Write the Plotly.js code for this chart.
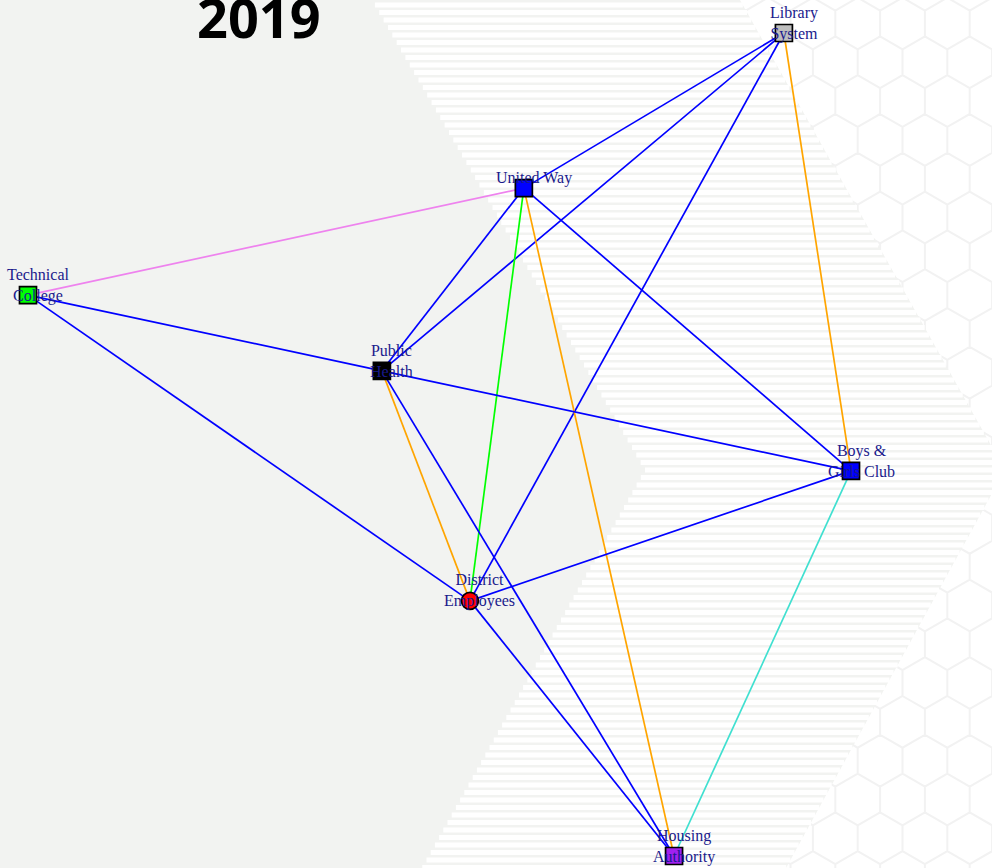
<!DOCTYPE html>
<html>
<head>
<meta charset="utf-8">
<script src="https://cdn.plot.ly/plotly-3.0.1.min.js"></script>
<style>html,body{margin:0;padding:0;background:#fff;}#chart{width:992px;height:868px;}</style>
</head>
<body>
<div id="chart"></div>
<script>
// ---- data ----
const chartTitle = '2019';
const nodeNames = ['Library<br>System', 'United Way', 'Technical<br>College', 'Public<br>Health', 'Boys &<br>Girls Club', 'District<br>Employees', 'Housing<br>Authority'];
const nodeX = [0.837, 0.205, -1.000, -0.140, 1.000, 0.074, 0.570];
const nodeY = [1.000, 0.623, 0.363, 0.179, -0.064, -0.380, -1.000];
const nodeColors = ['#BEBEBE', '#0000FF', '#00FF00', '#000000', '#0000FF', '#FF0000', '#A020F0'];
const nodeSymbols = ['square', 'square', 'square', 'square', 'square', 'circle', 'square'];
const edgeFrom = [0, 0, 0, 0, 1, 1, 1, 1, 1, 2, 3, 2, 3, 3, 5, 5, 4];
const edgeTo   = [1, 3, 5, 4, 2, 3, 5, 6, 4, 3, 4, 5, 5, 6, 4, 6, 6];
const edgeColors = ['#0000FF', '#0000FF', '#0000FF', '#FFA500', '#EE82EE', '#0000FF', '#00FF00', '#FFA500', '#0000FF', '#0000FF', '#0000FF', '#0000FF', '#FFA500', '#0000FF', '#0000FF', '#0000FF', '#40E0D0'];

// ---- page geometry (decorative background) ----
const W = 992, H = 868;
const px = x => (x / W).toFixed(5);
const py = y => (1 - y / H).toFixed(5);

function leftB(y) { return y <= 470 ? 372 + (645 - 372) * y / 470 : 645 - (645 - 422) * (y - 470) / 398; }
function rightB(y) { return y <= 470 ? 740 + (1005 - 740) * y / 470 : 1005 - (1005 - 786) * (y - 470) / 398; }

// hexagon pattern
const hw = 44.8, hs = hw / Math.sqrt(3), hrow = 1.5 * hs;
let hexPath = '';
for (let r = -1; r < 25; r++) {
  const cy = 23.5 + r * hrow;
  const off = (r % 2 !== 0) ? -hw / 2 : 0;
  for (let k = -8; k < 5; k++) {
    const cx = 902.5 + off + k * hw;
    const pts = [[cx, cy - hs], [cx + hw / 2, cy - hs / 2], [cx + hw / 2, cy + hs / 2], [cx, cy + hs], [cx - hw / 2, cy + hs / 2], [cx - hw / 2, cy - hs / 2]];
    hexPath += 'M' + pts.map(p => px(p[0]) + ',' + py(p[1])).join('L') + 'Z';
  }
}
// grey chevron
const greyPath = 'M' + [[0, 0], [740, 0], [1005, 470], [786, 868], [0, 868]].map(p => px(p[0]) + ',' + py(p[1])).join('L') + 'Z';
// white stripes in the band
let stripePath = '';
for (let y0 = -5; y0 < H + 8; y0 += 7.5) {
  const y1 = y0 + 5, ym = (y0 + y1) / 2;
  const xl = leftB(ym), xr = rightB(ym);
  stripePath += 'M' + px(xl) + ',' + py(y0) + 'L' + px(xr) + ',' + py(y0) + 'L' + px(xr) + ',' + py(y1) + 'L' + px(xl) + ',' + py(y1) + 'Z';
}

const shapes = [
  {type: 'path', xref: 'paper', yref: 'paper', path: hexPath, line: {color: '#f2f2f2', width: 2}, layer: 'below'},
  {type: 'path', xref: 'paper', yref: 'paper', path: greyPath, fillcolor: '#f2f3f1', line: {width: 0}, layer: 'below'},
  {type: 'path', xref: 'paper', yref: 'paper', path: stripePath, fillcolor: '#ffffff', line: {width: 0}, layer: 'below'}
];

// ---- traces ----
const traces = [];
for (let i = 0; i < edgeFrom.length; i++) {
  traces.push({
    type: 'scatter', mode: 'lines',
    x: [nodeX[edgeFrom[i]], nodeX[edgeTo[i]]],
    y: [nodeY[edgeFrom[i]], nodeY[edgeTo[i]]],
    line: {color: edgeColors[i], width: 1.7},
    hoverinfo: 'skip', showlegend: false
  });
}
traces.push({
  type: 'scatter', mode: 'markers',
  x: nodeX, y: nodeY,
  marker: {symbol: nodeSymbols, color: nodeColors, size: 17, line: {color: '#000000', width: 1.7}},
  hoverinfo: 'skip', showlegend: false, cliponaxis: false
});

const annotations = nodeNames.map((n, i) => ({
  x: nodeX[i], y: nodeY[i], xref: 'x', yref: 'y', text: n, showarrow: false,
  xshift: 10, yshift: 10, xanchor: 'center', yanchor: 'middle',
  font: {family: 'Liberation Serif, serif', size: 16, color: '#1a1a8c'}
}));
annotations.push({
  xref: 'paper', yref: 'paper', x: 258.5 / W, y: 1 - 17 / H, xanchor: 'center', yanchor: 'middle',
  text: '<b>' + chartTitle + '</b>', showarrow: false,
  font: {family: 'Open Sans, sans-serif', size: 54, color: '#000000'}
});

const layout = {
  width: W, height: H,
  margin: {l: 0, r: 0, t: 0, b: 0, pad: 0},
  paper_bgcolor: '#ffffff', plot_bgcolor: 'rgba(0,0,0,0)',
  xaxis: {range: [-1.06804, 1.34265], visible: false, showgrid: false, zeroline: false, fixedrange: true},
  yaxis: {range: [-1.02916, 1.08019], visible: false, showgrid: false, zeroline: false, fixedrange: true},
  showlegend: false, hovermode: false,
  shapes: shapes, annotations: annotations
};

Plotly.newPlot('chart', traces, layout, {staticPlot: true, displayModeBar: false});
</script>
</body>
</html>
